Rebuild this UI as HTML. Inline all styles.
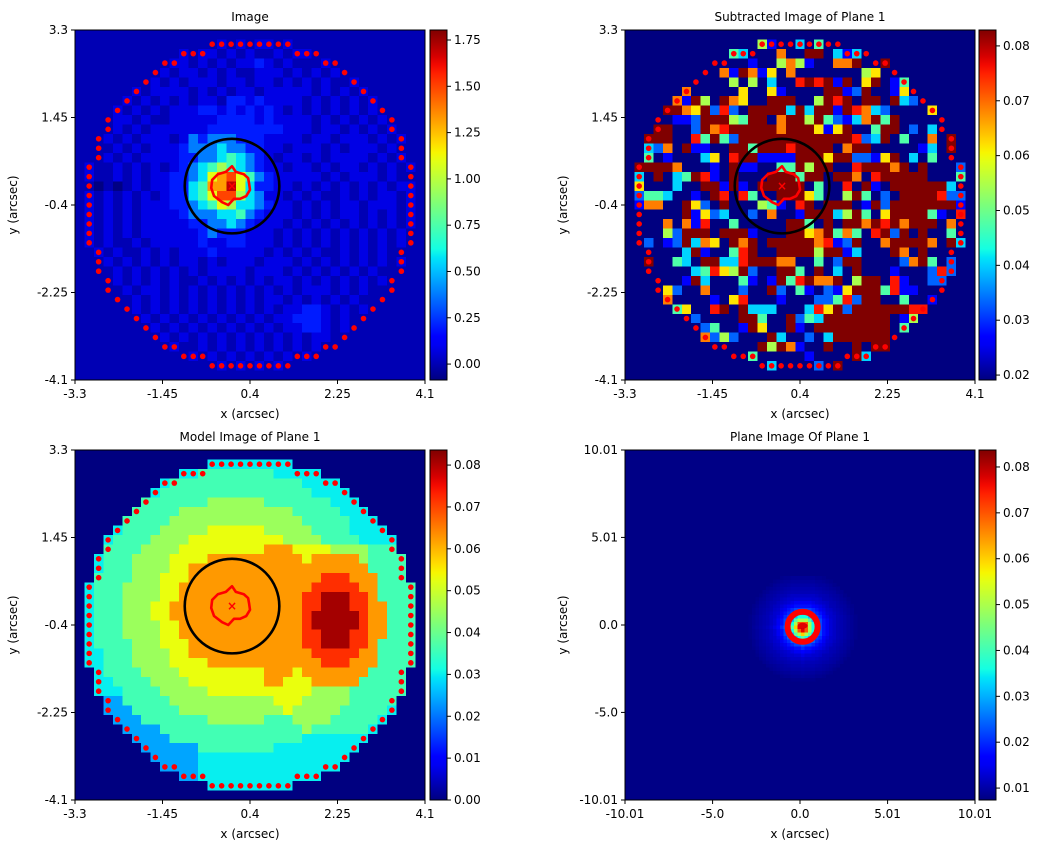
<!DOCTYPE html>
<html><head><meta charset="utf-8"><style>
html,body{margin:0;padding:0;background:#fff;}
svg{display:block;font-family:"DejaVu Sans","Liberation Sans",sans-serif;}
</style></head><body>
<svg id="fig" xmlns="http://www.w3.org/2000/svg" width="1047" height="852" viewBox="0 0 1047 852"></svg>
<script>
// ---------- DATA ----------
const gridN = 37;
const pixelScale = 0.2;
const maskRadiusCells = 17.5;
const imageCodes = "0123456789ab";
const imageLevels = [-0.08,0.0,0.08,0.2,0.38,0.57,0.72,0.95,1.1,1.32,1.5,1.7];
const imageRows = [
"1111111111111111111111111111111111111",
"1111111111111112121221211111111111111",
"1111111111121221212112122111111111111",
"1111111111221212122321211121111111111",
"1111111112122121211222121212111111111",
"1111111121212221221221212121121111111",
"1111112122221212122122222121212111111",
"1111121212121221332322221212121211111",
"1111212121222332323232121212121212111",
"1111221211222223333232222121212121111",
"1111212122222233333333222122121212211",
"1112121222124344433322221221222121211",
"1111212122234445443322122212122212121",
"1212121222233445654321221212222121212",
"1211212121234567654322122121221212121",
"1211212122334589a864322222121222121110",
"1101012122335699b85332212121212121221",
"121212121233568aa7542212121121212212",
"1212121222334568755432212121221222122",
"1212121222234445564322212121221212121",
"1212121222223344543222121212121212121",
"1212121222222343332221212121212121212",
"1212112122222322332221212121212121211",
"1121211212122232222212121211212121111",
"1212121212122121222122212121212121211",
"1111212121212122221222121212121211111",
"1111212121211212121212212121212121111",
"1111121221212121212121212221212111111",
"1111112121212121212122121212121111111",
"1111112121212121212121223321212111111",
"1111111212121212121212233321211111111",
"1111111121212121212121223321211111111",
"1111111112121212121212121221111111111",
"1111111111211212121212121211111111111",
"1111111111112121212121212111111111111",
"1111111111111212121212121111111111111",
"1111111111111111111111111111111111111"];
const residualRows = [
"",
"14:5 15:1 18:3 20:4",
"11:4 12:3 16:7 19-20:9 22:3 23:1 24:3",
"13:1 16:5 17:7 18:5 19:1 22-23:7 24:9 27:9",
"10:7 11:1 12:9 13:7 14:1 15:6 17:7 25:5 26:6",
"11:5 13:5 15:3 18:8 19:9 20:8 21:9 22:1 23:9 25:6 26:9 28:1 29:4",
"6:7 12:6 15:6 16:1 21-22:9 23:1 24:2 25:9 28:1 29:6",
"5:7 6:1 7:9 8:5 10:9 11:7 12:6 15-17:9 20:5 21:9 22:8 23:9 25-26:9 28:9 29:3 30:2",
"4:9 5:9 6:7 7:6 8:9 9:2 10:8 11:2 13-16:9 17:3 18:9 19:3 20-21:9 22:1 23:9 24:8 25:7 26:3 27:2 32:6",
"5:1 6:1 7:2 8-10:9 11:5 12:4 13-14:9 16:7 17-18:9 19:5 20:9 21:4 22:2 23:1 24:3 25:7 26:9 27:4 28:9",
"3-4:9 7:2 8:9 9:7 10:8 11-15:9 16:7 17-19:9 20:6 21:1 22:6 23:9 26:4 27-28:9 30:2 32:3",
"2-4:9 7:8 8:4 9:9 10:4 11:2 12-23:9 24:8 25:2 26:3 27:9 29:4 32:7 34:9",
"2:3 3:2 4:7 6:9 7-8:1 11-12:9 13:4 14-21:9 17:8 23:7 24-25:9 31:1 32:3 34:9",
"2:4 4:1 8:3 9:6 11:8 12-13:9 14-17:1 18-20:9 21:6 22-23:9 24-25:2 26:1 27:6 28:9 30:3 32:4",
"1-4:9 5:7 9:1 11:9 12-13:1 16-17:4 18:9 19:5 20-21:9 24:8 25-27:9 28:7 29:9 31:9 35:2",
"1:3 3:9 5:3 6:4 7:9 8:8 9:1 11:9 15-17:9 18:4 19-20:9 22-23:9 24:7 26:8 27-31:9 35:4",
"1:6 5:3 8-9:9 10:1 11:9 12:1 14-18:9 20:4 23:8 25:9 26:1 28-33:9 34:3",
"1:2 2-3:4 4:3 7:1 9:9 10:8 12:8 13:4 16-18:9 19:6 20:4 23:5 24:9 25:4 27:2 29-32:9 33:8 34:2 35:2",
"1:1 2-3:7 6:9 7:6 8:2 10:9 14:5 15:4 16:1 18:8 19:9 21-23:9 25:1 26:9 27:2 28-34:9 35:1",
"6:9 7:1 8:6 9:2 10:3 13:2 15:7 18:1 19-21:9 22:3 23:5 24:9 25:4 27:6 28-31:9 32:4 33:1 35:8",
"4:7 6:7 7:1 8:8 11:4 17-18:9 19:4 21:9 23-24:9 25:7 26:9 27:8 28:9 29:7 30-32:9 34:7",
"4:5 5:2 6-8:9 10-12:9 13:1 17-18:9 19:6 20:7 21:9 22:4 23:7 24:4 26:8 27:9 28:2 29:9 31:9 34:4",
"2:2 4:1 5:2 6:9 7:3 8:7 9:6 11:9 12:7 13:9 15-19:9 20:7 21:8 22:1 23:2 24:9 27:7 28-31:9 32:7 34:9 35:3",
"6:3 7:9 8:1 11:4 12:8 13:9 16-19:9 20:5 21-22:9 23:1 24:3 28:9 29:7 31:9",
"2:9 5:4 6:3 8-9:9 10-11:3 12:8 13-15:9 16-17:7 20:4 22:2 23-24:9 29:2 30:7 31:9 32:4 34:2",
"7:3 8:4 9:8 10:6 11:5 12:9 13:2 16-17:9 18:4 20:9 22:3 24:9 28:1 32:2 33:8 34:2",
"6:1 7:9 8:3 12:4 13:1 15:1 16:9 17:4 18:8 19:9 20-21:7 22:9 24:5 25-26:9 28:8 29:1 32-33:2",
"4:6 5:2 8:7 12:2 15:9 16:2 18:4 19:1 21:2 22:1 23:6 24-26:9 27:4 28:8 29-30:1",
"4:7 9:1 11:6 12:8 16:1 20-21:2 22:4 23:8 24:2 25-26:9 29:4 32:1",
"5:4 6:6 9:8 10:9 12:9 13-15:3 19:3 20:8 21:6 22:9 23:2 24-29:9 30:8 31:8",
"7:2 12-13:9 14:4 17:9 18:2 19:4 20:3 21-27:9 29:1 30:5",
"8:2 9:4 12:1 13:9 14:6 17:9 18:1 20-27:9 29:4 30:4",
"8:7 9:2 10:5 11:2 15:9 16:3 19:2 21:3 22-27:9",
"14:9 15:5 16:9 17:7 18:1 21:9 24:9 26-27:9",
"13:4 19:1 24:9 25:3",
"15:3 20:2 22:9",
""];
const modelRows = [
"",
"0-36:3",
"0-36:3 13-20:4",
"0-36:3 10-23:4",
"0-36:3 9-24:4",
"0-36:3 7-26:4 14-19:5",
"0-36:3 6-27:4 11-22:5",
"0-36:3 5-28:4 10-23:5",
"0-36:3 5-28:4 9-24:5 14-19:6",
"0-36:3 4-29:4 8-25:5 12-21:6",
"0-36:3 3-34:4 7-30:5 11-26:6 20-22:7",
"0-36:3 3-34:4 6-30:5 10-24:6 14-23:7 25-29:7",
"0-36:3 3-34:4 6-9:5 10-11:6 12-30:7",
"0-36:3 2-35:4 6-8:5 9-11:6 12-31:7 26-28:8",
"0-36:3 2-35:4 5-8:5 9-10:6 11-31:7 25-29:8",
"0-36:3 2-35:4 5-8:5 9-10:6 11-31:7 24-30:8 26-28:9",
"0-36:3 2-35:4 5-7:5 8-9:6 10-32:7 24-30:8 26-28:9",
"0-36:3 2-35:4 5-7:5 8-9:6 10-32:7 24-30:8 25-29:9",
"0-36:3 2-35:4 5-8:5 9-10:6 11-32:7 24-30:8 25-29:9",
"0-36:3 2-35:4 5-8:5 9-10:6 11-32:7 24-30:8 26-28:9",
"0-36:3 2-35:4 6-8:5 9-11:6 12-31:7 24-30:8 26-28:9",
"0-36:3 3-35:4 6-9:5 10-11:6 12-31:7 25-29:8",
"0-36:3 3-35:4 6-9:5 10-13:6 14-31:7 26-28:8",
"0-36:3 3-34:4 7-10:5 11-19:6 20-22:7 23:6 24-30:7",
"0-36:3 4-34:4 8-11:5 12-19:6 20-21:7 22-24:6 25-29:7",
"0-36:3 5-34:4 9-13:5 14-24:6 25-28:5",
"0-4:2 5-36:3 5-9:4 10-20:5 21-23:6 24-28:5 29-33:4",
"0-5:2 6-36:3 6-10:4 11-21:5 22:6 23-27:5 28-32:4",
"0-6:2 7-36:3 7-13:4 14-19:5 20-22:4 23-26:5 27-31:4",
"0-8:2 9-36:3 9-23:4 24:5 25-30:4",
"0-9:2 10-36:3 10-23:4",
"0-12:2 13-36:3 13-20:4",
"0-12:2 13-36:3",
"0-12:2 13-36:3",
"0-12:2 13-36:3",
"0-12:2 13-36:3",
""];
const modelLevels = [0,0.008,0.024,0.030,0.036,0.045,0.053,0.0625,0.072,0.081];
// source-plane radial profile (arcsec step 0.1)
const profileStep = 0.1;
const sourceProfile = [0.08,0.077,0.07,0.06,0.05,0.042,0.036,0.031,0.027,0.024,0.022,0.02,0.018,0.0165,0.015,0.014,0.013,0.0125,0.012,0.0115,0.011,0.0108,0.0105,0.0102,0.01,0.0097,0.0094,0.0091,0.0088,0.0085,0.0082];
const sourceCenter = [0.15,-0.1];
const sourceBackground = 0.0078;
// critical-curve contour (arcsec offsets) and Einstein circle
const contourX = [-0.42,-0.3,-0.13,0.0,0.08,0.25,0.34,0.36,0.38,0.3,0.17,0.04,-0.08,-0.21,-0.38,-0.44];
const contourY = [0.13,0.25,0.3,0.42,0.3,0.25,0.17,0.06,-0.08,-0.21,-0.27,-0.27,-0.4,-0.34,-0.21,-0.04];
const lensCenter = [0.02,0.0];
const einsteinRadius = 1.0;
const imgTicks = [-3.3,-1.45,0.4,2.25,4.1];
const imgTickLabels = ["-3.3","-1.45","0.4","2.25","4.1"];
const imgYTicks = [3.3,1.45,-0.4,-2.25,-4.1];
const imgYTickLabels = ["3.3","1.45","-0.4","-2.25","-4.1"];
const srcTicks = [-10.01,-5.0,0.0,5.01,10.01];
const srcTickLabels = ["-10.01","-5.0","0.0","5.01","10.01"];
const srcYTicks = [10.01,5.01,0.0,-5.0,-10.01];
const srcYTickLabels = ["10.01","5.01","0.0","-5.0","-10.01"];
const cb1Ticks = [0,0.25,0.5,0.75,1.0,1.25,1.5,1.75];
const cb1Labels = ["0.00","0.25","0.50","0.75","1.00","1.25","1.50","1.75"];
const cb2Ticks = [0.02,0.03,0.04,0.05,0.06,0.07,0.08];
const cb2Labels = ["0.02","0.03","0.04","0.05","0.06","0.07","0.08"];
const cb3Ticks = [0,0.01,0.02,0.03,0.04,0.05,0.06,0.07,0.08];
const cb3Labels = ["0.00","0.01","0.02","0.03","0.04","0.05","0.06","0.07","0.08"];
const cb4Ticks = [0.01,0.02,0.03,0.04,0.05,0.06,0.07,0.08];
const cb4Labels = ["0.01","0.02","0.03","0.04","0.05","0.06","0.07","0.08"];

// ---------- HELPERS ----------
const NS="http://www.w3.org/2000/svg";
const svg=document.getElementById('fig');
function mk(tag,attrs,parent){const e=document.createElementNS(NS,tag);for(const k in attrs)e.setAttribute(k,attrs[k]);(parent||svg).appendChild(e);return e;}
function interp(pts,f){for(let i=1;i<pts.length;i++){if(f<=pts[i][0]){const a=pts[i-1],b=pts[i];return a[1]+(b[1]-a[1])*(f-a[0])/(b[0]-a[0]);}}return pts[pts.length-1][1];}
const JR=[[0,0],[0.35,0],[0.66,1],[0.89,1],[1,0.5]];
const JG=[[0,0],[0.125,0],[0.375,1],[0.64,1],[0.91,0],[1,0]];
const JB=[[0,0.5],[0.11,1],[0.34,1],[0.65,0],[1,0]];
function jet(f){f=Math.max(0,Math.min(1,f));return `rgb(${Math.round(255*interp(JR,f))},${Math.round(255*interp(JG,f))},${Math.round(255*interp(JB,f))})`;}
function parseSparse(s){const out=new Array(gridN).fill(0);if(!s)return out;s.trim().split(/\s+/).forEach(t=>{const [r,v]=t.split(':');const p=r.split('-');const a=+p[0],b=p.length>1?+p[1]:a;for(let j=a;j<=b;j++)out[j]=+v;});return out;}
function inMask(i,j){const c=(gridN-1)/2;return (i-c)*(i-c)+(j-c)*(j-c)<=maskRadiusCells*maskRadiusCells;}

function makePanel(cfg){
  const g=mk('g',{});  
  cfg.g=g;
  cfg.X=v=>cfg.x0+(v-cfg.xmin)/(cfg.xmax-cfg.xmin)*cfg.w;
  cfg.Y=v=>cfg.y0+(cfg.ymax-v)/(cfg.ymax-cfg.ymin)*cfg.h;
  cfg.C=v=>jet((v-cfg.vmin)/(cfg.vmax-cfg.vmin));
  const cg=mk('g',{'shape-rendering':'crispEdges'},g);
   
  cfg.cells=cg;
  return cfg;
}
function finishPanel(cfg){
  const g=cfg.g;
  const fr=mk('rect',{x:cfg.x0,y:cfg.y0,width:cfg.w,height:cfg.h,fill:'none',stroke:'#000','stroke-width':1},g);
   
  cfg.xt.forEach((t,k)=>{const x=cfg.X(t);mk('line',{x1:x,x2:x,y1:cfg.y0+cfg.h,y2:cfg.y0+cfg.h+4,stroke:'#000'},g);
    const tx=mk('text',{x:x,y:cfg.y0+cfg.h+18,'font-size':12,'text-anchor':'middle'},g);tx.textContent=cfg.xl[k];
     });
  cfg.yt.forEach((t,k)=>{const y=cfg.Y(t);mk('line',{x1:cfg.x0-4,x2:cfg.x0,y1:y,y2:y,stroke:'#000'},g);
    const tx=mk('text',{x:cfg.x0-7,y:y+4,'font-size':12,'text-anchor':'end'},g);tx.textContent=cfg.yl[k];
     });
  const xl=mk('text',{x:cfg.x0+cfg.w/2,y:cfg.y0+cfg.h+38,'font-size':12,'text-anchor':'middle'},g);xl.textContent='x (arcsec)';
   
  const yx=cfg.x0-58, yy=cfg.y0+cfg.h/2;
  const yl=mk('text',{x:yx,y:yy,'font-size':12,'text-anchor':'middle',transform:`rotate(-90 ${yx} ${yy})`},g);yl.textContent='y (arcsec)';
   
  const ti=mk('text',{x:cfg.x0+cfg.w/2,y:cfg.y0-9,'font-size':12,'text-anchor':'middle'},g);ti.textContent=cfg.title;
   
  const cb=mk('g',{},g);  
  const gid='grad-'+cfg.id;
  const lg=mk('linearGradient',{id:gid,x1:0,y1:1,x2:0,y2:0},mk('defs',{},cb));
  for(let s=0;s<=40;s++){mk('stop',{offset:s/40,'stop-color':jet(s/40)},lg);}
  mk('rect',{x:cfg.cbx,y:cfg.y0,width:17,height:cfg.h,fill:`url(#${gid})`,stroke:'#000','stroke-width':1},cb);
  const CY=v=>cfg.y0+(cfg.vmax-v)/(cfg.vmax-cfg.vmin)*cfg.h;
  cfg.cbt.forEach((t,k)=>{const y=CY(t);mk('line',{x1:cfg.cbx+17,x2:cfg.cbx+21,y1:y,y2:y,stroke:'#000'},cb);
    const tx=mk('text',{x:cfg.cbx+24,y:y+4,'font-size':12},cb);tx.textContent=cfg.cbl[k];
     });
}
function drawGrid(cfg,valueFn,masked,outsideVal){
  const cs=cfg.w/gridN;
  for(let i=0;i<gridN;i++)for(let j=0;j<gridN;j++){
    const inside=inMask(i,j);
    const v=(masked&&!inside)?outsideVal:valueFn(i,j);
    const x=cfg.X(cfg.xmin+j*pixelScale), y=cfg.Y(cfg.ymax-i*pixelScale);
    const r=mk('rect',{x:x,y:y,width:cs+0.6,height:cs+0.6,fill:cfg.C(v)},cfg.cells);
    
    
  }
}
function drawMaskDots(cfg){
  const dg=mk('g',{},cfg.g);
   
  for(let i=0;i<gridN;i++)for(let j=0;j<gridN;j++){
    if(!inMask(i,j))continue;
    const edge=!inMask(i-1,j)||!inMask(i+1,j)||!inMask(i,j-1)||!inMask(i,j+1);
    if(edge){const c=mk('circle',{cx:cfg.X(cfg.xmin+(j+0.5)*pixelScale),cy:cfg.Y(cfg.ymax-(i+0.5)*pixelScale),r:2.8,fill:'#ff0000'},dg);
       }
  }
}
function drawLensOverlay(cfg){
  const cx=cfg.X(lensCenter[0]),cy=cfg.Y(lensCenter[1]);
  const rpx=cfg.X(einsteinRadius)-cfg.X(0);
  const c=mk('circle',{cx:cx,cy:cy,r:rpx,fill:'none',stroke:'#000','stroke-width':2.6},cfg.g);
   
  let d='';contourX.forEach((vx,k)=>{d+=(k?'L':'M')+cfg.X(lensCenter[0]+vx)+' '+cfg.Y(lensCenter[1]+contourY[k]);});d+='Z';
  const p=mk('path',{d:d,fill:'none',stroke:'#ff0000','stroke-width':2.6,'stroke-linejoin':'round'},cfg.g);
   
  const m=mk('text',{x:cx,y:cy+4,'font-size':12,'font-weight':'bold','text-anchor':'middle',fill:'#ff0000'},cfg.g);m.textContent='×';
   
}

// ---------- PANELS ----------
const P1=makePanel({id:1,name:'image-panel',title:'Image',x0:75,y0:30,w:350,h:350,xmin:-3.3,xmax:4.1,ymin:-4.1,ymax:3.3,vmin:-0.086,vmax:1.804,cbx:430,xt:imgTicks,xl:imgTickLabels,yt:imgYTicks,yl:imgYTickLabels,cbt:cb1Ticks,cbl:cb1Labels});
drawGrid(P1,(i,j)=>imageLevels[Math.max(0,imageCodes.indexOf((imageRows[i]||'')[j]||'1'))],true,0.0);
drawMaskDots(P1);drawLensOverlay(P1);finishPanel(P1);

const P2=makePanel({id:2,name:'subtracted-image-panel',title:'Subtracted Image of Plane 1',x0:625,y0:30,w:350,h:350,xmin:-3.3,xmax:4.1,ymin:-4.1,ymax:3.3,vmin:0.0191,vmax:0.0829,cbx:979,xt:imgTicks,xl:imgTickLabels,yt:imgYTicks,yl:imgYTickLabels,cbt:cb2Ticks,cbl:cb2Labels});
const resid=residualRows.map(parseSparse);
drawGrid(P2,(i,j)=>P2.vmin+resid[i][j]/9*(P2.vmax-P2.vmin),true,0.0);
drawMaskDots(P2);drawLensOverlay(P2);finishPanel(P2);

const P3=makePanel({id:3,name:'model-image-panel',title:'Model Image of Plane 1',x0:75,y0:450,w:350,h:350,xmin:-3.3,xmax:4.1,ymin:-4.1,ymax:3.3,vmin:0,vmax:0.0836,cbx:430,xt:imgTicks,xl:imgTickLabels,yt:imgYTicks,yl:imgYTickLabels,cbt:cb3Ticks,cbl:cb3Labels});
const model=modelRows.map(parseSparse);
drawGrid(P3,(i,j)=>modelLevels[model[i][j]],true,0.0);
drawMaskDots(P3);drawLensOverlay(P3);finishPanel(P3);

const P4=makePanel({id:4,name:'plane-image-panel',title:'Plane Image Of Plane 1',x0:625,y0:450,w:350,h:350,xmin:-10.01,xmax:10.01,ymin:-10.01,ymax:10.01,vmin:0.0074,vmax:0.0837,cbx:979,xt:srcTicks,xl:srcTickLabels,yt:srcYTicks,yl:srcYTickLabels,cbt:cb4Ticks,cbl:cb4Labels});
(function(){
  const bg=mk('rect',{x:P4.x0,y:P4.y0,width:P4.w,height:P4.h,fill:P4.C(sourceBackground)},P4.cells);
   
  const step=0.2, R=sourceProfile.length*profileStep;
  const cs=P4.X(step)-P4.X(0);
  for(let x=-R;x<=R;x+=step)for(let y=-R;y<=R;y+=step){
    const r=Math.hypot(x+step/2,y-step/2);
    const k=Math.floor(r/profileStep); if(k>=sourceProfile.length)continue;
    const c=mk('rect',{x:P4.X(sourceCenter[0]+x),y:P4.Y(sourceCenter[1]+y),width:cs+0.5,height:cs+0.5,fill:P4.C(sourceProfile[k])},P4.cells);
    
    
  }
  const cx=P4.X(sourceCenter[0]),cy=P4.Y(sourceCenter[1]);
  const ring=mk('circle',{cx:cx,cy:cy,r:15,fill:'none',stroke:'#ff0000','stroke-width':6},P4.g);
   
  const blob=mk('ellipse',{cx:cx,cy:cy-1,rx:5,ry:3,fill:'#e00000'},P4.g);
   
})();
finishPanel(P4);
</script>
</body></html>
